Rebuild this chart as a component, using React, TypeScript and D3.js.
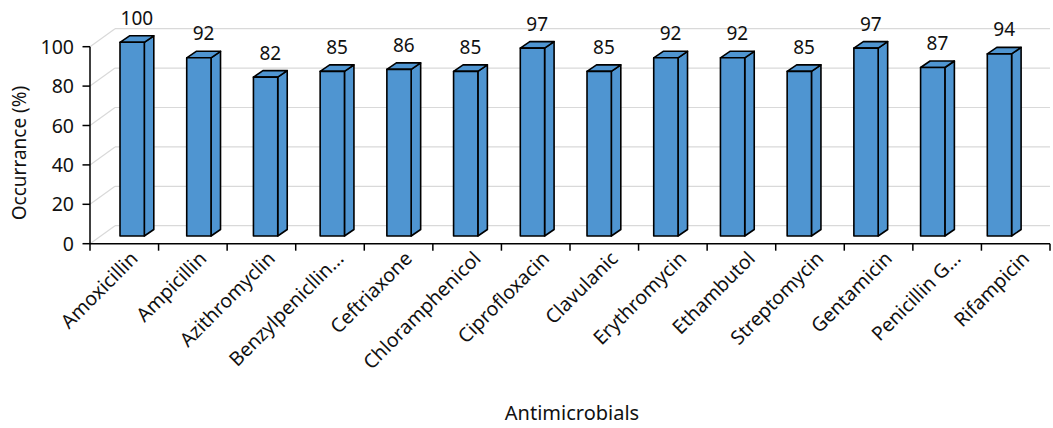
import React from "react";
import * as d3 from "d3";

const categories = [
  "Amoxicillin", "Ampicillin", "Azithromyclin", "Benzylpenicllin...", "Ceftriaxone",
  "Chloramphenicol", "Ciprofloxacin", "Clavulanic", "Erythromycin", "Ethambutol",
  "Streptomycin", "Gentamicin", "Penicillin G...", "Rifampicin",
];
const values = [100, 92, 82, 85, 86, 85, 97, 85, 92, 92, 85, 97, 87, 94];
const yTicks = [0, 20, 40, 60, 80, 100];

const W = 1053, H = 428;
const FONT = "'Noto Sans', 'Open Sans', sans-serif";
const FILL = "#4f95d1";

export default function App() {
  // front (axis) plane
  const xCat = d3.scaleBand<string>().domain(categories).range([90, 1050]);
  const yAxis = d3.scaleLinear().domain([0, 100]).range([243.7, 46.7]);
  // back wall offset
  const wallDx = 25, wallDy = -18;
  // bar plane (slightly behind the front, perspective)
  const xBar = d3.scaleLinear().domain([0, categories.length - 1]).range([120, 987.3]);
  const yBar = d3.scaleLinear().domain([0, 100]).range([236, 42.3]);
  const barW = 24.3;
  const dX = 9.5, dY = -6.5;

  return (
    <svg width={W} height={H} style={{ position: "absolute", left: 0, top: 0, background: "#fff" }} fontFamily={FONT}>
      {/* gridlines on back wall */}
      {yTicks.map((t) => (
        <g key={"g" + t} stroke="#d9d9d9" strokeWidth={1.2} fill="none">
          <line x1={90} y1={yAxis(t)} x2={90 + wallDx} y2={yAxis(t) + wallDy} />
          <line x1={90 + wallDx} y1={yAxis(t) + wallDy} x2={1050} y2={yAxis(t) + wallDy} />
        </g>
      ))}
      {/* bars */}
      {values.map((v, i) => {
        const x0 = xBar(i);
        const x1 = x0 + barW;
        const yt = yBar(v);
        const yb = yBar(0);
        const front = `M${x0},${yt}L${x1},${yt}L${x1},${yb}L${x0},${yb}Z`;
        const side = `M${x1},${yt}L${x1 + dX},${yt + dY}L${x1 + dX},${yb + dY}L${x1},${yb}Z`;
        const top = `M${x0},${yt}L${x0 + dX},${yt + dY}L${x1 + dX},${yt + dY}L${x1},${yt}Z`;
        return (
          <g key={"b" + i} stroke="#000" strokeWidth={1.6} strokeLinejoin="round" fill={FILL}>
            <path d={side} />
            <path d={top} />
            <path d={front} />
            <text
              x={(x0 + x1 + dX) / 2}
              y={yt + dY - 11}
              textAnchor="middle"
              fontSize={19}
              fill="#111"
              stroke="none"
            >
              {v}
            </text>
          </g>
        );
      })}
      {/* y axis */}
      <line x1={90} y1={yAxis(100)} x2={90} y2={yAxis(0)} stroke="#000" strokeWidth={1.5} />
      {yTicks.map((t) => (
        <g key={"y" + t}>
          <line x1={82.5} x2={90} y1={yAxis(t)} y2={yAxis(t)} stroke="#000" strokeWidth={1.5} />
          <text x={74} y={yAxis(t)} dy="0.36em" textAnchor="end" fontSize={19.5} fill="#111">
            {t}
          </text>
        </g>
      ))}
      {/* x axis */}
      <line x1={90} y1={yAxis(0)} x2={1050} y2={yAxis(0)} stroke="#000" strokeWidth={1.5} />
      {categories.map((c, i) => (
        <line
          key={"t" + i}
          x1={xCat(c)!}
          x2={xCat(c)!}
          y1={yAxis(0)}
          y2={yAxis(0) + 7}
          stroke="#000"
          strokeWidth={1.5}
        />
      ))}
      <line x1={1050} x2={1050} y1={yAxis(0)} y2={yAxis(0) + 7} stroke="#000" strokeWidth={1.5} />
      {categories.map((c) => {
        const cx = xCat(c)! + xCat.bandwidth() / 2;
        return (
          <text
            key={"l" + c}
            transform={`translate(${cx + 10},${255}) rotate(-45)`}
            textAnchor="end"
            fontSize={19.5}
            fill="#111"
            dy="0.35em"
          >
            {c}
          </text>
        );
      })}
      {/* axis titles */}
      <text
        transform={`translate(26,153) rotate(-90)`}
        textAnchor="middle"
        fontSize={19}
        fill="#111"
      >
        Occurrance (%)
      </text>
      <text x={572} y={420} textAnchor="middle" fontSize={20} fill="#111">
        Antimicrobials
      </text>
    </svg>
  );
}
